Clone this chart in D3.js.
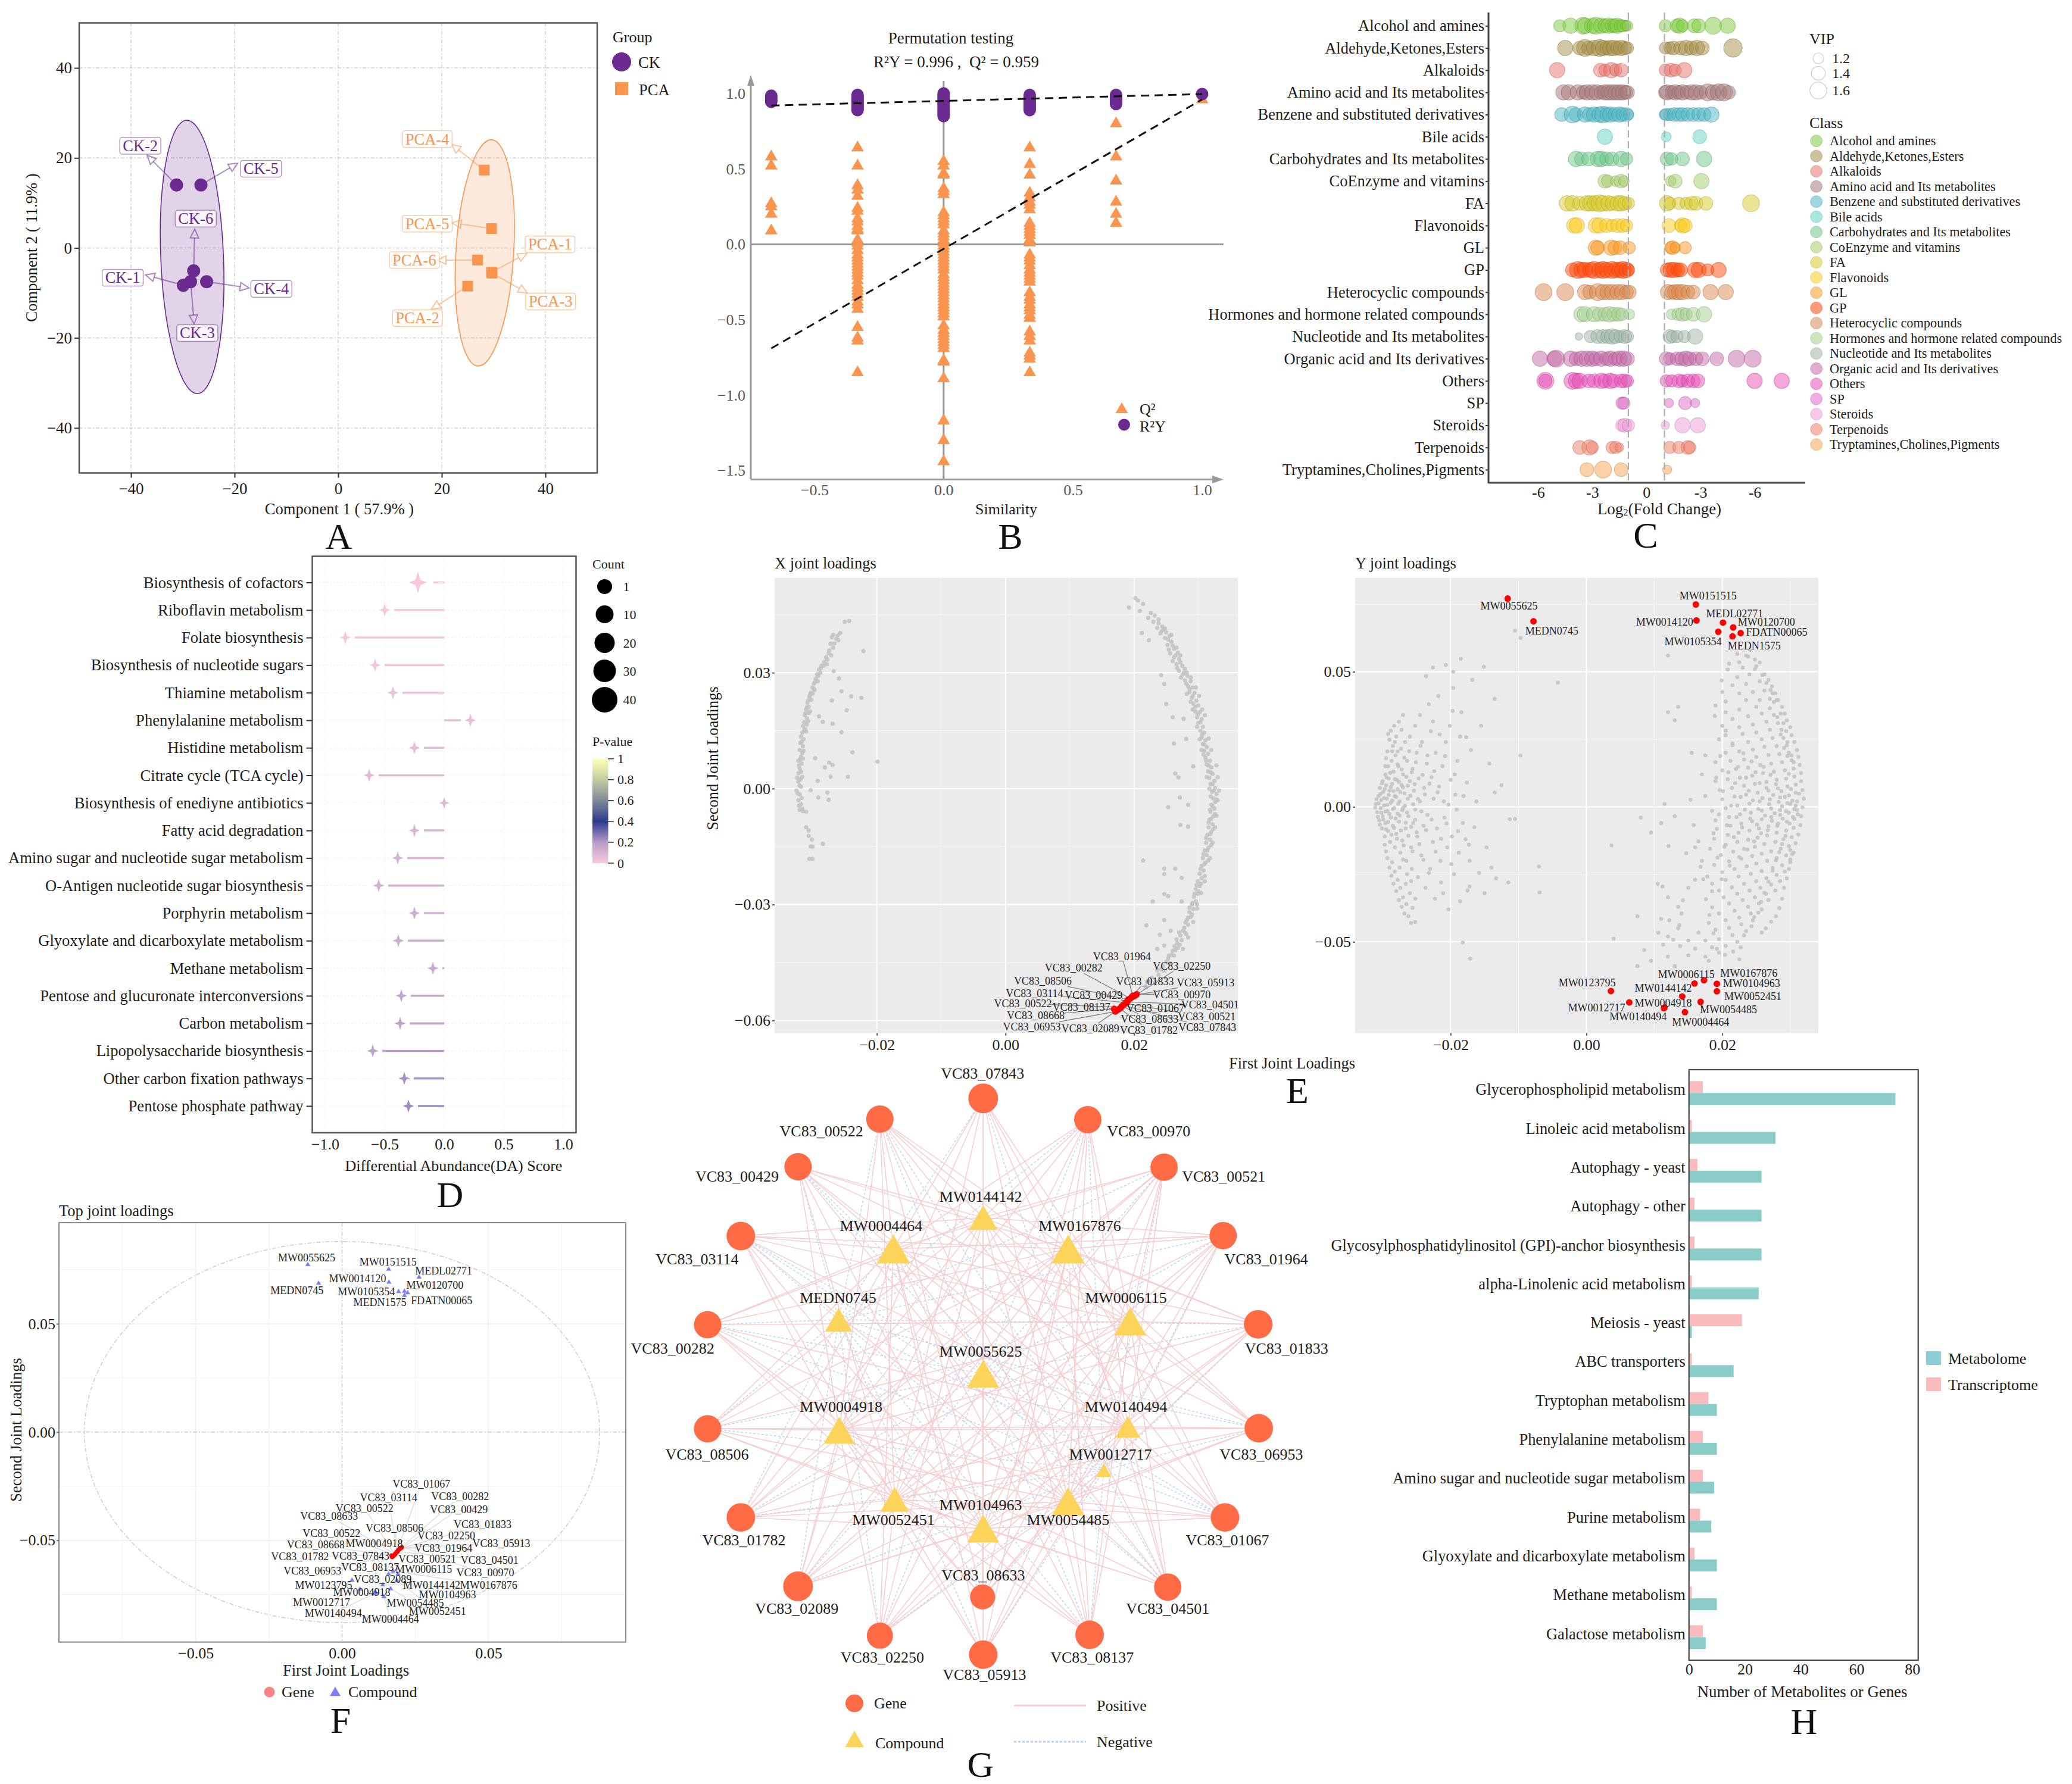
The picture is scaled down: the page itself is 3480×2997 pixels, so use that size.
<!DOCTYPE html>
<html>
<head>
<meta charset="utf-8">
<script src="https://cdn.jsdelivr.net/npm/d3@7"></script>
<style>
  body { margin: 0; background: #fff; }
  svg { display: block; }
</style>
</head>
<body>
<div id="chart"></div>
<script>
// A: PCA scores
const pcaNames = ['CK-1', 'CK-2', 'CK-3', 'CK-4', 'CK-5', 'CK-6', 'PCA-1', 'PCA-2', 'PCA-3', 'PCA-4', 'PCA-5', 'PCA-6']
const pcaX = [-29.9, -31.2, -28.5, -25.4, -26.5, -27.9, 29.6, 25.0, 29.7, 28.2, 29.6, 26.9]
const pcaY = [-8.3, 14.0, -7.5, -7.5, 14.0, -5.1, -5.4, -8.5, -5.6, 17.3, 4.3, -2.7]
const pcaLabelX = [-41.6, -38.2, -27.2, -12.9, -14.9, -27.5, 40.9, 15.3, 41.0, 17.2, 17.2, 14.7]
const pcaLabelY = [-6.6, 22.7, -18.9, -9.1, 17.6, 6.5, 0.8, -15.6, -11.9, 24.2, 5.4, -2.7]
const pcaTipX = [-37.2, -36.9, -27.8, -17.2, -19.4, -27.7, 36.4, 18.0, 36.5, 21.9, 22.0, 19.1]
const pcaTipY = [-6.0, 20.6, -16.9, -8.9, 18.8, 4.2, -1.2, -13.6, -10.0, 23.0, 5.6, -2.7]

// B: permutation test
const permSimilarity = [-0.667, -0.333, 0, 0.333, 0.667, 1]
const permR2 = [
  [0.945, 0.955, 0.965, 0.975, 0.985],
  [0.89, 0.90, 0.91, 0.92, 0.93, 0.94, 0.95, 0.96, 0.97, 0.98, 0.99],
  [0.85, 0.86, 0.87, 0.88, 0.89, 0.90, 0.91, 0.92, 0.93, 0.94, 0.95, 0.96, 0.97, 0.98, 0.99, 1.0],
  [0.89, 0.90, 0.91, 0.92, 0.93, 0.94, 0.95, 0.96, 0.97, 0.98, 0.99],
  [0.93, 0.94, 0.95, 0.96, 0.97, 0.98, 0.99],
  [0.996]
]
const permQ2 = [
  [0.58, 0.52, 0.27, 0.25, 0.20, 0.09],
  [0.64, 0.52, 0.39, 0.36, 0.32, 0.24, 0.22, 0.17, 0.15, 0.12, 0.10, 0.09, 0.03, 0.01, -0.01, -0.04, -0.07, -0.09, -0.11, -0.13, -0.15, -0.17, -0.19, -0.21, -0.24, -0.27, -0.29, -0.31, -0.33, -0.35, -0.38, -0.40, -0.43, -0.55, -0.62, -0.64, -0.85],
  [0.55, 0.52, 0.47, 0.46, 0.37, 0.35, 0.33, 0.21, 0.19, 0.17, 0.15, 0.13, 0.09, 0.07, 0.05, 0.03, 0.01, -0.01, -0.03, -0.05, -0.07, -0.09, -0.11, -0.13, -0.15, -0.17, -0.20, -0.22, -0.24, -0.26, -0.28, -0.30, -0.32, -0.34, -0.36, -0.38, -0.40, -0.42, -0.44, -0.46, -0.48, -0.54, -0.57, -0.59, -0.61, -0.63, -0.65, -0.67, -0.69, -0.77, -0.78, -0.89, -1.17, -1.30, -1.44],
  [0.64, 0.53, 0.46, 0.34, 0.31, 0.28, 0.26, 0.23, 0.14, 0.12, 0.10, 0.08, 0.06, 0.03, 0.01, -0.07, -0.09, -0.11, -0.14, -0.17, -0.19, -0.21, -0.23, -0.25, -0.32, -0.35, -0.37, -0.40, -0.42, -0.44, -0.47, -0.49, -0.58, -0.61, -0.64, -0.72, -0.74, -0.76, -0.85],
  [0.80, 0.58, 0.42, 0.28, 0.20, 0.14],
  [0.959]
]
const r2Fit = [[-0.667, 0.92], [1, 0.996]]
const q2Fit = [[-0.667, -0.69], [1, 0.96]]

// C: fold change by class, pairs of [log2FC, VIP]
const classNames = ['Alcohol and amines', 'Aldehyde,Ketones,Esters', 'Alkaloids', 'Amino acid and Its metabolites', 'Benzene and substituted derivatives', 'Bile acids', 'Carbohydrates and Its metabolites', 'CoEnzyme and vitamins', 'FA', 'Flavonoids', 'GL', 'GP', 'Heterocyclic compounds', 'Hormones and hormone related compounds', 'Nucleotide and Its metabolites', 'Organic acid and Its derivatives', 'Others', 'SP', 'Steroids', 'Terpenoids', 'Tryptamines,Cholines,Pigments']
const classColors = ['#7ecb3e', '#a58f48', '#e8736a', '#a87a7a', '#4db5c4', '#60d4c4', '#6ec88a', '#a4ce6c', '#d8c92a', '#fccb1e', '#f99a22', '#ff4a0a', '#d98a50', '#a3cf8e', '#a0b5a8', '#c46aa8', '#e650b8', '#e06cc8', '#ee9ad8', '#f07f68', '#f7a550']
const classValues = [
  [[-4.8,1.3],[-4.2,1.5],[-3.5,1.6],[-3.4,1.5],[-3.0,1.5],[-2.8,1.6],[-2.5,1.5],[-2.3,1.4],[-2.1,1.5],[-1.9,1.4],[-1.75,1.4],[-1.6,1.5],[-1.45,1.3],[-1.3,1.3],[-1.15,1.2],[-1.05,1.2],[1.05,1.3],[1.7,1.4],[1.85,1.5],[2.0,1.3],[2.65,1.4],[2.9,1.4],[3.7,1.6],[4.5,1.5]],
  [[-4.5,1.5],[-3.7,1.4],[-3.4,1.6],[-3.2,1.4],[-2.9,1.5],[-2.6,1.6],[-2.4,1.5],[-2.2,1.4],[-2.0,1.5],[-1.8,1.5],[-1.6,1.4],[-1.4,1.5],[-1.2,1.4],[-1.05,1.3],[1.05,1.3],[1.3,1.3],[1.5,1.4],[1.9,1.4],[2.2,1.5],[2.5,1.4],[2.8,1.5],[3.1,1.4],[4.8,1.7]],
  [[-4.95,1.5],[-2.55,1.4],[-2.3,1.3],[-1.95,1.5],[-1.7,1.3],[-1.4,1.4],[1.05,1.3],[1.35,1.4],[1.6,1.3],[2.1,1.5]],
  [[-4.6,1.5],[-4.3,1.5],[-3.8,1.5],[-3.5,1.4],[-3.3,1.5],[-3.0,1.5],[-2.75,1.5],[-2.5,1.4],[-2.3,1.5],[-2.1,1.5],[-1.9,1.5],[-1.7,1.5],[-1.5,1.5],[-1.3,1.5],[-1.15,1.4],[-1.05,1.4],[1.05,1.4],[1.15,1.5],[1.4,1.4],[1.6,1.5],[1.8,1.4],[2.0,1.5],[2.25,1.4],[2.5,1.5],[2.75,1.5],[3.0,1.4],[3.4,1.6],[3.7,1.5],[4.0,1.6],[4.3,1.6],[4.55,1.4]],
  [[-4.7,1.4],[-4.1,1.6],[-3.9,1.4],[-3.4,1.5],[-3.15,1.4],[-2.9,1.5],[-2.6,1.5],[-2.4,1.6],[-2.2,1.4],[-2.0,1.5],[-1.75,1.4],[-1.5,1.5],[-1.3,1.4],[-1.1,1.4],[-1.0,1.2],[1.0,1.2],[1.1,1.3],[1.3,1.3],[1.55,1.4],[1.8,1.4],[2.0,1.4],[2.3,1.4],[2.6,1.4],[2.9,1.4],[3.2,1.4],[3.6,1.5]],
  [[-2.3,1.5],[1.1,1.15],[2.95,1.4]],
  [[-3.9,1.5],[-3.6,1.4],[-3.2,1.4],[-2.7,1.5],[-2.5,1.5],[-2.2,1.4],[-1.9,1.4],[-1.4,1.5],[-1.1,1.3],[1.15,1.4],[1.4,1.3],[2.0,1.4],[3.2,1.5]],
  [[-2.3,1.4],[-2.15,1.3],[-1.7,1.2],[-1.4,1.4],[-1.25,1.2],[1.35,1.2],[1.6,1.4],[3.05,1.5]],
  [[-4.4,1.5],[-4.1,1.5],[-3.7,1.4],[-3.3,1.5],[-3.1,1.5],[-2.85,1.5],[-2.6,1.6],[-2.4,1.5],[-2.1,1.5],[-1.9,1.4],[-1.6,1.5],[-1.4,1.5],[-1.2,1.4],[-1.0,1.3],[1.15,1.5],[1.3,1.3],[1.8,1.3],[2.2,1.3],[2.5,1.4],[2.75,1.4],[3.3,1.4],[5.8,1.6]],
  [[-4.0,1.5],[-3.85,1.5],[-2.8,1.5],[-2.6,1.5],[-2.2,1.4],[-1.9,1.3],[-1.6,1.4],[-1.3,1.4],[-1.1,1.3],[1.25,1.4],[1.9,1.3],[2.0,1.5],[2.15,1.4]],
  [[-2.8,1.5],[-2.7,1.4],[-1.95,1.5],[-1.75,1.4],[-1.45,1.4],[-0.95,1.3],[1.35,1.3],[1.45,1.4],[1.6,1.2],[2.15,1.3]],
  [[-4.1,1.4],[-3.8,1.6],[-3.6,1.5],[-3.4,1.5],[-3.1,1.5],[-2.9,1.6],[-2.6,1.5],[-2.4,1.6],[-2.2,1.5],[-1.9,1.6],[-1.7,1.5],[-1.5,1.5],[-1.3,1.6],[-1.1,1.5],[-1.0,1.3],[1.15,1.4],[1.35,1.5],[1.55,1.5],[1.75,1.4],[1.9,1.4],[2.7,1.5],[2.9,1.5],[3.4,1.3],[4.0,1.5]],
  [[-5.7,1.6],[-4.5,1.6],[-3.4,1.5],[-3.15,1.4],[-2.7,1.6],[-2.4,1.5],[-2.15,1.5],[-1.9,1.5],[-1.6,1.5],[-1.35,1.5],[-1.1,1.4],[-0.95,1.4],[1.2,1.5],[1.4,1.4],[1.6,1.5],[1.8,1.5],[2.0,1.5],[2.3,1.4],[2.6,1.4],[3.55,1.5],[4.4,1.5]],
  [[-3.6,1.5],[-3.4,1.5],[-2.9,1.5],[-2.6,1.4],[-2.3,1.4],[-2.05,1.5],[-1.8,1.4],[-1.55,1.4],[-1.35,1.3],[-0.95,1.2],[1.4,1.2],[1.75,1.3],[2.0,1.4],[2.2,1.3],[2.6,1.4],[3.2,1.5]],
  [[-3.75,1.0],[-3.1,1.3],[-2.7,1.4],[-2.4,1.4],[-2.15,1.4],[-1.9,1.5],[-1.7,1.4],[-1.45,1.3],[-1.2,1.4],[-1.05,1.3],[1.3,1.4],[1.45,1.3],[1.7,1.3],[2.1,1.3],[2.7,1.5]],
  [[-5.9,1.5],[-5.1,1.5],[-5.0,1.6],[-4.2,1.5],[-3.9,1.4],[-3.6,1.5],[-3.3,1.5],[-3.0,1.5],[-2.8,1.4],[-2.5,1.5],[-2.2,1.4],[-2.0,1.5],[-1.7,1.4],[-1.5,1.5],[-1.25,1.5],[-1.05,1.4],[1.1,1.4],[1.3,1.3],[1.7,1.4],[1.95,1.4],[2.2,1.5],[2.4,1.4],[2.75,1.4],[3.1,1.4],[3.9,1.4],[5.0,1.6],[5.9,1.6]],
  [[-5.6,1.6],[-5.6,1.35],[-4.1,1.6],[-3.9,1.5],[-3.7,1.5],[-3.2,1.4],[-2.9,1.4],[-2.5,1.5],[-2.3,1.4],[-2.0,1.5],[-1.8,1.4],[-1.4,1.4],[-1.2,1.4],[-1.05,1.3],[1.1,1.3],[1.4,1.3],[1.8,1.4],[2.0,1.3],[2.3,1.4],[2.6,1.4],[2.85,1.4],[6.0,1.5],[7.5,1.5]],
  [[-1.35,1.3],[-1.25,1.3],[1.25,1.1],[2.15,1.35],[2.7,1.1]],
  [[-1.35,1.3],[-1.2,1.4],[-1.0,1.3],[1.05,1.05],[2.0,1.5],[2.85,1.5]],
  [[-3.7,1.4],[-3.15,1.5],[-3.0,1.3],[-1.9,1.3],[-1.7,1.3],[-1.5,1.1],[1.3,1.3],[1.8,1.3],[2.3,1.4],[2.4,1.3]],
  [[-3.3,1.4],[-2.4,1.6],[-1.4,1.4],[1.15,1.1]]
]
const vipLegend = [1.2, 1.4, 1.6]
const fcTickLabels = ['-6', '-3', '0', '-3', '-6']

// D: differential abundance
const daPathways = ['Biosynthesis of cofactors', 'Riboflavin metabolism', 'Folate biosynthesis', 'Biosynthesis of nucleotide sugars', 'Thiamine metabolism', 'Phenylalanine metabolism', 'Histidine metabolism', 'Citrate cycle (TCA cycle)', 'Biosynthesis of enediyne antibiotics', 'Fatty acid degradation', 'Amino sugar and nucleotide sugar metabolism', 'O-Antigen nucleotide sugar biosynthesis', 'Porphyrin metabolism', 'Glyoxylate and dicarboxylate metabolism', 'Methane metabolism', 'Pentose and glucuronate interconversions', 'Carbon metabolism', 'Lipopolysaccharide biosynthesis', 'Other carbon fixation pathways', 'Pentose phosphate pathway']
const daScore = [-0.22, -0.5, -0.83, -0.58, -0.43, 0.22, -0.25, -0.63, 0, -0.25, -0.39, -0.55, -0.25, -0.385, -0.095, -0.36, -0.37, -0.6, -0.335, -0.3]
const daPvalue = [0.005, 0.01, 0.01, 0.02, 0.03, 0.05, 0.06, 0.07, 0.08, 0.09, 0.10, 0.11, 0.12, 0.13, 0.14, 0.15, 0.17, 0.18, 0.22, 0.23]
const daCount = [40, 10, 10, 10, 10, 10, 10, 10, 5, 10, 10, 10, 10, 10, 10, 10, 10, 10, 10, 10]
const countLegend = [1, 10, 20, 30, 40]
const pvalueTicks = [0, 0.2, 0.4, 0.6, 0.8, 1]
const pvalueColors = ['#f9c9dc', '#b49cc8', '#2b3a8c', '#7f8a98', '#c4cca0', '#ffffb3']

// E: joint loadings, x and y in units of 1e-4
const geneNames = ['VC83_00970', 'VC83_05913', 'VC83_02250', 'VC83_01964', 'VC83_01833', 'VC83_00282', 'VC83_08506', 'VC83_00429', 'VC83_04501', 'VC83_03114', 'VC83_00521', 'VC83_01067', 'VC83_07843', 'VC83_08633', 'VC83_00522', 'VC83_01782', 'VC83_08137', 'VC83_02089', 'VC83_06953', 'VC83_08668']
const geneLoadX = [204, 203, 200, 198, 196, 194, 191, 190, 189, 187, 186, 184, 183, 181, 180, 178, 176, 174, 171, 169]
const geneLoadY = [-532, -534, -537, -536, -540, -543, -546, -550, -552, -554, -556, -559, -561, -563, -566, -569, -571, -573, -577, -570]
const geneLabelX = [274, 311, 274, 181, 217, 106, 58, 137, 318, 45, 313, 233, 314, 224, 27, 223, 118, 132, 41, 47]
const geneLabelY = [-533, -503, -459, -434, -499, -464, -498, -535, -560, -530, -591, -569, -618, -596, -556, -625, -566, -621, -616, -587]

const xLoadGrey = [
  [-250,432],[-243,434],[-268,398],[-263,388],[-257,403],[-272,375],[-268,365],[-275,350],[-279,340],[-271,345],[-282,328],[-286,318],[-278,322],[-290,308],[-293,296],[-288,300],[-295,285],[-298,272],[-292,278],[-300,262],[-303,248],[-297,255],[-305,238],[-302,230],[-308,222],[-306,212],[-310,205],[-304,200],[-312,190],[-309,182],[-313,172],[-307,175],[-315,162],[-312,155],[-316,145],[-310,148],[-318,135],[-314,128],[-319,118],[-315,110],[-320,100],[-316,92],[-318,82],[-322,72],[-317,65],[-320,52],[-322,40],[-316,30],[-322,18],[-318,5],[-325,-5],[-320,-15],[-322,-30],[-318,-40],[-320,-55],[-316,-52],[-315,-58],[-310,-60],[-310,-100],[-306,-108],[-306,-122],[-303,-150],[-300,-150],[-305,-182],[-300,-182],
  [-221,356],[-260,384],[-267,304],[-259,285],[-270,228],[-255,252],[-240,239],[-224,235],[-247,203],[-290,187],[-284,173],[-269,168],[-255,146],[-238,94],[-199,70],[-296,79],[-274,67],[-269,61],[-281,55],[-272,31],[-245,31],[-292,20],[-303,-4],[-277,-10],[-291,-23],[-275,-29],[-284,-143],[-301,-132],
  [-311,195],[-306,196],[-309,166],[-313,150],[-317,122],[-314,98],[-319,76],[-321,60],[-315,78],[-318,44],[-324,28],[-319,24],[-320,8],[-323,-12],[-317,-24],[-321,-44],[-304,242],[-300,246],[-298,258],[-296,276],[-291,292],[-287,312],[-283,318],[-277,334],[-274,358],[-266,376],[-270,392],[-261,396],[-309,210],[-307,228],
  [202,493],[192,469],[209,460],[214,478],[206,487],[226,455],[222,442],[232,448],[230,432],[238,438],[244,420],[236,416],[250,405],[243,408],[255,395],[248,390],[258,380],[252,372],[262,362],[256,350],[268,352],[262,340],[270,335],[266,322],[275,318],[270,305],[279,310],[276,296],[283,292],[279,280],[288,278],[284,265],[291,262],[286,250],[294,248],[290,235],[297,228],[292,220],[300,215],[295,200],[302,198],[298,185],[305,180],[300,170],[307,160],[303,150],[309,145],[305,132],[311,125],[307,115],[313,108],[309,98],[315,90],[311,80],[318,72],[313,62],[320,55],[315,45],[322,38],[317,28],[325,20],[319,12],[326,2],[321,-8],[328,-14],[323,-25],[326,-35],[320,-42],[325,-52],[319,-60],[323,-72],[317,-80],[322,-92],[316,-100],[320,-112],[314,-120],[318,-132],[312,-140],[316,-152],[310,-160],[313,-172],[307,-180],[311,-192],[305,-200],[308,-212],[302,-220],[305,-232],[299,-240],[302,-252],[296,-260],[299,-272],[293,-280],[296,-292],[290,-300],[292,-312],[286,-320],[288,-332],[282,-340],[284,-352],[278,-360],[279,-372],[272,-380],[274,-392],[267,-400],[268,-412],[260,-420],[262,-432],[253,-440],[256,-452],[245,-460],[247,-472],[238,-482],[228,-490],[232,-505],[218,-512],
  [212,403],[223,384],[242,294],[247,271],[250,219],[260,185],[277,181],[281,129],[262,117],[264,39],[269,29],[292,58],[253,-48],[271,-23],[284,-42],[272,-94],[284,-98],[214,-186],[247,-207],[247,-221],[264,-207],[274,-231],[247,-273],[253,-278],[229,-292],[274,-292],[219,-354],[247,-340],[240,-378],[257,-368],[247,-406],[236,-415],
  [248,415],[258,398],[266,365],[272,345],[282,300],[288,288],[296,262],[301,240],[306,205],[310,190],[316,130],[320,100],[328,60],[330,30],[332,-5],[330,-30],[328,-70],[326,-100],[322,-140],[318,-180],[310,-240],[304,-270],[298,-310],[292,-345],[284,-385],[276,-415],
  [238,428],[246,412],[241,402],[253,386],[260,370],[254,360],[265,345],[260,330],[272,327],[267,312],[278,300],[273,288],[281,272],[286,258],[282,245],[291,240],[288,225],[295,212],[291,205],[299,192],[303,172],[298,160],[306,140],[302,128],[309,115],[305,100],[312,72],[308,88],[316,60],[319,42],[313,30],[322,12],[317,0],[324,-5],[319,-20],[328,-28],[322,-45],[318,-55],[326,-66],[320,-78],[316,-88],[323,-105],[318,-118],[312,-128],[320,-146],[314,-160],[308,-170],[315,-186],[309,-196],[303,-208],[310,-226],[304,-246],[297,-250],[300,-266],[294,-272],[298,-300],[291,-296],[286,-308],[290,-326],[284,-334],[280,-346],[276,-368],[281,-376],[270,-372],[266,-390],[271,-404],[263,-408],[258,-430],[264,-418],[250,-448],[254,-432],[242,-468],[236,-470],[225,-498],[220,-500]
]

const compoundNames = ['MW0055625', 'MEDN0745', 'MW0151515', 'MW0014120', 'MEDL02771', 'MW0120700', 'MW0105354', 'MEDN1575', 'FDATN00065', 'MW0123795', 'MW0012717', 'MW0004918', 'MW0140494', 'MW0144142', 'MW0006115', 'MW0167876', 'MW0104963', 'MW0052451', 'MW0054485', 'MW0004464']
const yLoadX = [-116, -78, 161, 162, 201, 216, 194, 215, 227, 36, 63, 114, 115, 141, 159, 173, 192, 192, 168, 145]
const yLoadY = [771, 687, 749, 690, 682, 664, 648, 631, 643, -682, -724, -745, -743, -702, -654, -642, -655, -683, -722, -760]
const yLabelX = [-114, -51, 179, 115, 218, 265, 157, 247, 280, 1, 15, 113, 76, 113, 147, 239, 243, 245, 209, 168]
const yLabelY = [743, 650, 781, 683, 714, 683, 612, 596, 646, -652, -743, -726, -776, -672, -621, -615, -654, -701, -751, -797]

const yLoadGrey = [
  [-310,10],[-308,-20],[-306,40],[-305,-50],[-304,70],[-303,-5],[-302,25],[-301,-80],[-300,95],[-300,-35],[-299,55],[-298,5],[-297,-110],[-296,120],[-296,-60],[-295,80],[-294,30],[-293,-15],[-292,150],[-292,-90],[-291,105],[-290,60],[-289,-130],[-288,-40],[-288,15],[-287,170],[-286,85],[-285,-70],[-284,130],[-283,-5],[-282,40],[-282,-150],[-281,190],[-280,-100],[-279,100],[-278,65],[-278,-25],[-277,150],[-276,-55],[-275,20],[-274,-170],[-273,215],[-272,80],[-271,-125],[-270,120],[-270,-5],[-268,50],[-267,240],[-266,-80],[-265,-200],[-264,170],[-263,30],[-262,-35],[-260,260],[-260,95],[-258,-150],[-257,-230],[-256,140],[-255,-60],[-254,60],[-252,300],[-252,-10],[-250,200],[-249,-110],[-248,-260],[-247,105],[-245,340],[-245,20],[-243,-180],[-242,240],[-240,-70],[-239,70],[-237,-300],[-235,160],[-234,-30],[-232,380],[-230,-230],[-229,280],[-228,110],[-226,-130],[-225,30],[-223,-340],[-222,200],[-220,-80],[-218,410],[-217,75],[-215,-200],[-214,-280],[-212,150],[-210,20],[-209,-40],[-207,240],[-205,-150],[-203,-380],[-201,300],[-200,100],[-198,-110],[-196,440],[-195,-250],[-193,45],[-191,-10],[-190,170],[-188,-170],[-186,260],[-184,350],[-182,-60],[-178,-120],[-176,90],[-175,-310],[-172,-200],[-170,210],[-168,470],[-165,-75],[-162,20],[-158,-245],[-155,300],[-150,-320],[-147,-150],[-143,160],[-140,-225],[-135,400],[-133,-265],[-125,80],[-115,-280],[-105,-45],
  [-185,548],[-196,500],[-226,516],[-207,525],[-151,518],[-236,484],[-42,460],[-97,625],[-105,652],[-97,190],[-135,53],[-113,-46],[-70,-221],[-69,-317],[37,-143],[40,-488],[-182,-502],[-171,-562],[-172,-295],[-256,-374],[-252,-426],
  [-311,-3],[-309,28],[-307,-37],[-306,13],[-304,-66],[-303,48],[-302,-22],[-301,87],[-299,-47],[-298,33],[-297,66],[-296,-18],[-295,-83],[-294,109],[-293,7],[-292,-56],[-291,44],[-290,-27],[-289,126],[-288,73],[-287,-103],[-286,23],[-285,-8],[-284,58],[-283,-78],[-282,103],[-281,-43],[-280,36],[-279,-118],[-278,157],[-277,11],[-276,92],[-275,-32],[-274,55],[-273,-88],[-272,138],[-271,-13],[-270,72],[-269,-143],[-268,182],[-267,4],[-266,-59],[-265,111],[-264,-21],[-263,78],[-262,-107],[-261,206],[-259,41],[-258,-74],[-257,128],[-256,-165],[-255,9],[-253,84],[-252,-48],[-251,165],[-250,-94],[-248,29],[-246,-138],[-244,226],[-243,-17],[-241,118],[-240,-196],[-238,46],[-236,-86],[-234,190],[-232,-245],[-231,86],[-228,-47],[-226,316],[-224,132],[-222,-166],[-219,54],[-216,268],[-214,-118],[-211,-320],[-208,188],[-206,-62],[-203,8],[-199,-212],[-197,355],[-194,120],[-189,-90],[-186,-350],[-181,40],[-177,258],[-173,-140],
  [-292,270],[-290,248],[-288,282],[-285,225],[-283,300],[-280,260],[-276,315],[-272,285],[-270,340],[-293,205],[-295,180],[-296,150],[-286,205],[-282,240],[-278,205],[-297,-140],[-295,-165],[-293,-190],[-290,-225],[-287,-255],[-284,-285],[-280,-312],[-276,-345],[-272,-370],[-268,-395],[-286,-205],[-282,-240],[-278,-270],[-274,-300],[-270,-335],[-265,-360],[-262,-405],[-258,-430],[-266,-285],[-260,-320],[-264,-250],[-275,-225],[-270,-195],[-258,-275],[-252,-340],
  [241,581],[235,560],[248,545],[255,534],[225,535],[210,530],[230,515],[248,510],[262,490],[240,490],[222,480],[255,465],[273,446],[235,455],[215,450],[262,430],[278,420],[245,425],[225,420],[200,425],[190,375],[205,390],[270,400],[282,395],[255,395],[235,395],[288,370],[270,365],[250,370],[225,360],[205,350],[292,345],[276,340],[258,345],[238,335],[215,325],[295,320],[282,310],[265,315],[245,305],[225,295],[200,300],[300,295],[287,285],[270,285],[250,275],[230,270],[205,265],[302,265],[290,255],[274,255],[258,250],[238,240],[215,235],[195,250],[306,240],[295,228],[280,225],[262,222],[245,212],[225,205],[205,200],[310,210],[298,200],[284,195],[268,192],[250,185],[232,175],[212,170],[190,165],[312,185],[302,172],[288,165],[272,160],[256,155],[238,145],[220,140],[200,135],[175,190],[314,155],[305,142],[292,135],[276,130],[260,125],[244,115],[226,108],[208,102],[190,95],[170,120],[316,125],[306,112],[294,104],[280,100],[265,92],[248,85],[232,78],[214,70],[196,62],[175,40],[316,95],[308,82],[296,75],[282,68],[268,60],[252,52],[235,45],[218,38],[200,28],[318,62],[308,52],[298,42],[285,35],[270,28],[255,20],[240,12],[222,5],[205,-5],[185,-15],[320,30],[310,20],[300,10],[288,2],[272,-6],[258,-14],[242,-22],[226,-28],[210,-38],[190,-50],[318,-2],[310,-12],[298,-22],[285,-30],[272,-38],[258,-46],[244,-54],[228,-62],[212,-70],[192,-82],[316,-35],[306,-45],[295,-55],[282,-62],[268,-72],[254,-80],[240,-88],[224,-96],[208,-104],[188,-118],[315,-68],[305,-78],[294,-88],[280,-96],[266,-106],[252,-114],[238,-122],[222,-130],[205,-140],[182,-155],[160,-150],[312,-102],[302,-112],[290,-120],[278,-130],[262,-138],[248,-148],[232,-156],[216,-166],[198,-178],[170,-200],[308,-135],[298,-145],[286,-155],[272,-165],[258,-174],[244,-182],[228,-192],[210,-202],[188,-215],[305,-170],[294,-180],[280,-190],[266,-200],[250,-210],[236,-220],[218,-230],[200,-242],[178,-258],[300,-205],[288,-216],[274,-226],[258,-238],[242,-248],[224,-258],[205,-270],[185,-285],[160,-270],[292,-240],[280,-252],[265,-264],[250,-275],[232,-285],[214,-298],[195,-310],[150,-300],[112,-295],[285,-275],[272,-288],[256,-300],[240,-310],[222,-322],[202,-335],[120,-335],[278,-310],[264,-322],[248,-335],[230,-345],[210,-358],[185,-372],[135,-370],[268,-345],[254,-358],[238,-370],[218,-385],[195,-395],[140,-395],[75,-405],[258,-380],[242,-395],[225,-410],[205,-420],[180,-430],[110,-415],[245,-420],[228,-435],[210,-448],[190,-455],[165,-465],[135,-450],[235,-460],[215,-475],[195,-490],[175,-495],[150,-495],[120,-480],[222,-500],[205,-515],[185,-520],[160,-525],[138,-515],[85,-530],[195,-540],[175,-555],[150,-550],[120,-555],[95,-570],[225,-565],[180,-570],[130,-590],[75,-590],[115,10],[130,-35],[110,-60],[95,-95],[80,-40],[121,-145],[105,-285],[120,350],[135,370],[120,560],[155,200],[130,320],
  [308,4],[311,-28],[313,48],[306,-8],[303,22],[304,-38],[301,66],[299,-62],[296,14],[294,-16],[292,36],[289,-44],[287,58],[285,-12],[283,18],[281,-70],[279,84],[277,-24],[275,44],[273,-52],[271,118],[269,10],[267,-86],[265,70],[263,-32],[261,148],[259,32],[257,-98],[255,88],[253,-8],[251,-66],[249,128],[247,-128],[245,24],[243,168],[241,-44],[239,60],[237,-158],[235,108],[233,-10],[231,198],[229,-76],[227,36],[225,-186],[223,148],[221,-38],[219,88],[217,-112],[215,228],[213,4],[211,-218],[209,128],[207,-68],[205,282],[203,-148],[201,58],[199,-268],[197,188],[195,-28],[193,-188],[191,108],[189,336],[187,-98],[185,-312],
  [298,122],[296,188],[293,-108],[291,218],[288,-138],[286,268],[284,-168],[281,332],[279,-198],[276,388],[274,-236],[271,432],[268,-278],[265,458],[262,-318],[259,488],[257,-352],[253,-392],[250,520],[247,-408],[243,-442],[238,556],[232,-476],[227,-520],[222,566],[216,-536],[208,508],[204,-548],[199,468],[192,-526],[187,-468],[181,-400],[176,-342],[172,-268],[168,-222],[165,-128],[158,-68],[153,26],[147,-172],[142,-346],[137,-438],[128,-492],[122,-420],[113,-510],[106,-466],
  [296,240],[294,280],[290,310],[286,345],[280,395],[274,420],[268,470],[300,-195],[298,-230],[295,-265],[291,-300],[288,-340],[284,-375],[279,-405],[272,-425],[264,-450],[258,-465],[302,190],[305,165],[303,-175],[300,-160]
]

// F: top joint loadings, same units
const topLoadX = [-117, -80, 159, 160, 263, 213, 193, 213, 224, 34, 61, 116, 111, 139, 159, 174, 191, 187, 166, 143]
const topLoadY = [773, 687, 752, 692, 715, 650, 649, 631, 643, -684, -726, -743, -745, -705, -656, -642, -656, -685, -724, -760]
const topLabelNames = ['MW0055625', 'MEDN0745', 'MW0151515', 'MEDL02771', 'MW0014120', 'MW0120700', 'MW0105354', 'MEDN1575', 'FDATN00065', 'VC83_01067', 'VC83_00282', 'VC83_03114', 'VC83_00522', 'VC83_00429', 'VC83_08633', 'VC83_01833', 'VC83_08506', 'VC83_00522', 'VC83_02250', 'VC83_05913', 'VC83_08668', 'MW0004918', 'VC83_01964', 'VC83_01782', 'VC83_07843', 'VC83_00521', 'VC83_04501', 'VC83_08137', 'MW0006115', 'VC83_06953', 'VC83_00970', 'VC83_02089', 'MW0123795', 'MW0144142', 'MW0167876', 'MW0004918', 'MW0104963', 'MW0012717', 'MW0054485', 'MW0052451', 'MW0140494', 'MW0004464']
const topLabelX = [-121, -154, 157, 347, 53, 317, 83, 129, 340, 271, 403, 159, 77, 399, -44, 480, 179, -36, 356, 544, -90, 110, 346, -144, 63, 291, 504, 96, 279, -101, 489, 139, -63, 306, 501, 67, 360, -70, 250, 326, -30, 165]
const topLabelY = [806, 654, 785, 743, 708, 677, 649, 598, 608, -241, -297, -304, -353, -357, -388, -428, -442, -467, -479, -514, -521, -514, -537, -575, -573, -586, -593, -626, -633, -640, -650, -680, -706, -708, -708, -740, -752, -787, -790, -829, -837, -865]
const topCircleRadius = 880

// G: network, node places in layout units of 0 to 1568 across and down
const netGenes = ['VC83_07843', 'VC83_00970', 'VC83_00521', 'VC83_01964', 'VC83_01833', 'VC83_06953', 'VC83_01067', 'VC83_04501', 'VC83_08137', 'VC83_05913', 'VC83_02250', 'VC83_02089', 'VC83_01782', 'VC83_08506', 'VC83_00282', 'VC83_03114', 'VC83_00429', 'VC83_00522', 'VC83_08633']
const netGeneX = [553, 723, 847, 943, 1000, 1001, 946, 853, 726, 553, 385, 252, 159, 105, 105, 159, 252, 385, 552]
const netGeneY = [84, 130, 233, 381, 573, 798, 991, 1142, 1245, 1288, 1247, 1140, 991, 799, 574, 382, 232, 129, 1163]
const netGeneR = [25, 23, 23, 23, 24, 24, 24, 23, 24, 24, 22, 25, 24, 23, 23, 24, 23, 23, 21]
const netGeneLabelX = [552, 822, 944, 1013, 1046, 1005, 950, 853, 730, 555, 389, 250, 164, 104, 48, 88, 153, 290, 553]
const netGeneLabelY = [30, 155, 253, 432, 625, 855, 1041, 1188, 1294, 1332, 1294, 1188, 1041, 855, 625, 432, 253, 155, 1116]
const netCompounds = ['MW0144142', 'MW0004464', 'MW0167876', 'MEDN0745', 'MW0006115', 'MW0055625', 'MW0004918', 'MW0140494', 'MW0012717', 'MW0052451', 'MW0054485', 'MW0104963']
const netCompoundX = [553, 407, 691, 318, 792, 553, 319, 788, 749, 409, 691, 553]
const netCompoundY = [342, 410, 410, 563, 567, 680, 802, 795, 889, 952, 956, 1015]
const netCompoundW = [48, 56, 56, 46, 54, 54, 52, 42, 26, 48, 54, 54]
const netCompoundLabelX = [549, 387, 710, 317, 785, 549, 322, 785, 760, 407, 691, 549]
const netCompoundLabelY = [297, 360, 360, 516, 516, 632, 752, 752, 855, 997, 997, 964]
const netNegative = ['MW0055625', 'MW0012717', 'MEDN0745']

// H: pathway counts
const pathwayNames = ['Glycerophospholipid metabolism', 'Linoleic acid metabolism', 'Autophagy - yeast', 'Autophagy - other', 'Glycosylphosphatidylinositol (GPI)-anchor biosynthesis', 'alpha-Linolenic acid metabolism', 'Meiosis - yeast', 'ABC transporters', 'Tryptophan metabolism', 'Phenylalanine metabolism', 'Amino sugar and nucleotide sugar metabolism', 'Purine metabolism', 'Glyoxylate and dicarboxylate metabolism', 'Methane metabolism', 'Galactose metabolism']
const metabolomeCount = [74, 31, 26, 26, 26, 25, 1, 16, 10, 10, 9, 8, 10, 10, 6]
const transcriptomeCount = [5, 1, 3, 2, 2, 1, 19, 1, 7, 5, 5, 4, 2, 1, 5]

const SERIF = '"Liberation Serif", "Times New Roman", serif'
const INK = '#1c1c1c'
const PURPLE = '#6b2a90'
const ORANGE = '#f9954f'

const svg = d3.select('#chart').append('svg')
  .attr('width', 3480).attr('height', 2997)
  .attr('font-family', SERIF)
svg.append('rect').attr('width', 3480).attr('height', 2997).attr('fill', '#fff')

const text = (parent, x, y, s, size = 26, anchor = 'start', fill = INK) =>
  parent.append('text')
    .attr('x', x).attr('y', y)
    .attr('dominant-baseline', 'central')
    .attr('text-anchor', anchor)
    .attr('font-size', size)
    .attr('fill', fill)
    .text(s)

const vtext = (parent, x, y, s, size = 26) =>
  text(parent, 0, 0, s, size, 'middle').attr('transform', `translate(${x},${y}) rotate(-90)`)

const axisStyle = (g, size, fill = INK, line = '#333') => {
  g.attr('font-family', SERIF).attr('font-size', size)
  g.selectAll('text').attr('fill', fill)
  g.selectAll('line').attr('stroke', line).attr('stroke-width', 2)
  g.select('.domain').remove()
}

const triangle = w => d3.symbol(d3.symbolTriangle, w * w * Math.sqrt(3) / 4)()

// A
const drawScores = () => {
  const g = svg.append('g')
  const x = d3.scaleLinear().domain([-50, 50]).range([133, 1003])
  const y = d3.scaleLinear().domain([-50, 50]).range([794.5, 38.5])
  const ticks = [-40, -20, 0, 20, 40]

  g.append('g').selectAll('line').data(ticks).join('line')
    .attr('x1', d => x(d)).attr('x2', d => x(d))
    .attr('y1', y(50)).attr('y2', y(-50))
    .attr('stroke', '#cfcfcf').attr('stroke-width', 1.5).attr('stroke-dasharray', '6 3 2 3')
  g.append('g').selectAll('line').data(ticks).join('line')
    .attr('x1', x(-50)).attr('x2', x(50))
    .attr('y1', d => y(d)).attr('y2', d => y(d))
    .attr('stroke', '#cfcfcf').attr('stroke-width', 1.5).attr('stroke-dasharray', '6 3 2 3')

  const ellipses = [
    { cx: -28.2, cy: -2, rx: 6.05, ry: 30.4, rot: -2.3, color: PURPLE },
    { cx: 28.3, cy: -1.1, rx: 5.57, ry: 25.2, rot: 3.5, color: ORANGE },
  ]
  g.selectAll('ellipse').data(ellipses).join('ellipse')
    .attr('cx', 0).attr('cy', 0)
    .attr('rx', d => x(d.rx) - x(0))
    .attr('ry', d => y(0) - y(d.ry))
    .attr('transform', d => `translate(${x(d.cx)},${y(d.cy)}) rotate(${d.rot})`)
    .attr('fill', d => d.color).attr('fill-opacity', 0.2)
    .attr('stroke', d => d.color).attr('stroke-width', 1.6)

  pcaNames.forEach((name, i) => {
    const color = i < 6 ? PURPLE : ORANGE
    const px = x(pcaX[i]), py = y(pcaY[i]), tx = x(pcaTipX[i]), ty = y(pcaTipY[i])
    const a = Math.atan2(ty - py, tx - px)
    const head = 15
    const wing = 7
    const bx = tx - head * Math.cos(a), by = ty - head * Math.sin(a)
    g.append('line')
      .attr('x1', px).attr('y1', py).attr('x2', bx).attr('y2', by)
      .attr('stroke', color).attr('stroke-opacity', 0.55).attr('stroke-width', 2)
    g.append('path')
      .attr('d', `M${tx},${ty}L${bx - wing * Math.sin(a)},${by + wing * Math.cos(a)}L${bx + wing * Math.sin(a)},${by - wing * Math.cos(a)}Z`)
      .attr('fill', 'none').attr('stroke', color).attr('stroke-opacity', 0.55).attr('stroke-width', 2)
    const lx = x(pcaLabelX[i]), ly = y(pcaLabelY[i])
    const box = g.append('rect').attr('fill', '#fff').attr('fill-opacity', 0.75)
      .attr('stroke', color).attr('stroke-opacity', 0.5).attr('stroke-width', 1.5).attr('rx', 4)
    const label = text(g, lx, ly, name, 26.5, 'middle', color)
    const w = label.node().getComputedTextLength() + 10
    box.attr('x', lx - w / 2).attr('y', ly - 14).attr('width', w).attr('height', 28)
  })

  pcaNames.forEach((name, i) => {
    if (i < 6) {
      g.append('ellipse').attr('cx', x(pcaX[i])).attr('cy', y(pcaY[i]))
        .attr('rx', 11).attr('ry', 11).attr('fill', PURPLE)
    } else {
      g.append('rect').attr('x', x(pcaX[i]) - 9).attr('y', y(pcaY[i]) - 9)
        .attr('width', 18).attr('height', 18).attr('fill', ORANGE)
    }
  })

  g.append('rect').attr('x', 133).attr('y', 38.5).attr('width', 870).attr('height', 756)
    .attr('fill', 'none').attr('stroke', '#555').attr('stroke-width', 2.5)

  g.append('g').attr('transform', 'translate(0,794.5)')
    .call(d3.axisBottom(x).tickValues(ticks).tickFormat(d3.format('d')).tickSize(8).tickPadding(8))
    .call(a => axisStyle(a, 27))
  g.append('g').attr('transform', 'translate(133,0)')
    .call(d3.axisLeft(y).tickValues(ticks).tickFormat(d3.format('d')).tickSize(8).tickPadding(4))
    .call(a => axisStyle(a, 27))

  text(g, 570, 855, 'Component 1 ( 57.9% )', 26.6, 'middle')
  vtext(g, 53, 416, 'Component 2 ( 11.9% )', 26.6)
  text(g, 1029, 62, 'Group', 26)
  g.append('circle').attr('cx', 1044).attr('cy', 104).attr('r', 16).attr('fill', PURPLE)
  text(g, 1072, 105, 'CK', 26.5)
  g.append('rect').attr('x', 1033).attr('y', 138).attr('width', 22).attr('height', 22).attr('fill', ORANGE)
  text(g, 1073, 151, 'PCA', 26.5)
  text(g, 569, 901, 'A', 62, 'middle', '#111')
}

// B
const drawPermutation = () => {
  const g = svg.append('g')
  const x = d3.scaleLinear().domain([-0.746, 1]).range([1261, 2019])
  const y = d3.scaleLinear().domain([-1.5, 1]).range([790.6, 157])
  const GREY = '#999'

  g.append('line').attr('x1', 1261).attr('x2', 2055).attr('y1', y(0)).attr('y2', y(0))
    .attr('stroke', GREY).attr('stroke-width', 3)
  g.append('line').attr('x1', x(0)).attr('x2', x(0)).attr('y1', 136).attr('y2', 805.5)
    .attr('stroke', GREY).attr('stroke-width', 3)

  permQ2.forEach((vals, i) => {
    g.append('g').selectAll('path').data(vals).join('path')
      .attr('d', triangle(21))
      .attr('transform', d => `translate(${x(permSimilarity[i])},${y(d)})`)
      .attr('fill', ORANGE)
  })
  permR2.forEach((vals, i) => {
    g.append('g').selectAll('circle').data(vals).join('circle')
      .attr('cx', x(permSimilarity[i])).attr('cy', d => y(d)).attr('r', 10.5)
      .attr('fill', PURPLE)
  })

  const fit = d3.line().x(d => x(d[0])).y(d => y(d[1]))
  ;[r2Fit, q2Fit].forEach(d => {
    g.append('path').attr('d', fit(d)).attr('fill', 'none')
      .attr('stroke', '#111').attr('stroke-width', 3).attr('stroke-dasharray', '14 9')
  })

  g.append('g').attr('transform', 'translate(0,805.5)')
    .call(d3.axisBottom(x).tickValues([-0.5, 0, 0.5, 1]).tickFormat(d3.format('.1f')).tickSize(0).tickPadding(8))
    .call(a => axisStyle(a, 26, '#555'))
  g.append('g').attr('transform', 'translate(1261,0)')
    .call(d3.axisLeft(y).tickValues([-1.5, -1, -0.5, 0, 0.5, 1]).tickFormat(d3.format('.1f')).tickSize(0).tickPadding(9))
    .call(a => axisStyle(a, 26, '#555'))

  // axis arrows
  g.append('line').attr('x1', 1261).attr('x2', 2045).attr('y1', 805.5).attr('y2', 805.5)
    .attr('stroke', GREY).attr('stroke-width', 3)
  g.append('line').attr('x1', 1261).attr('x2', 1261).attr('y1', 136).attr('y2', 805.5)
    .attr('stroke', GREY).attr('stroke-width', 3)
  g.append('path').attr('d', 'M2055,805.5L2036,799L2036,812Z').attr('fill', GREY)
  g.append('path').attr('d', 'M1261,126L1255,144L1267,144Z').attr('fill', GREY)

  text(g, 1597, 64, 'Permutation testing', 27, 'middle')
  text(g, 1606, 104, 'R²Y = 0.996 ,  Q² = 0.959', 27, 'middle').attr('xml:space', 'preserve')
  g.append('path').attr('d', triangle(21)).attr('transform', 'translate(1884,688)').attr('fill', ORANGE)
  g.append('circle').attr('cx', 1888).attr('cy', 713.5).attr('r', 10).attr('fill', PURPLE)
  text(g, 1914, 687, 'Q²', 26)
  text(g, 1914, 716, 'R²Y', 26)
  text(g, 1690, 855, 'Similarity', 26, 'middle')
  text(g, 1697, 901, 'B', 62, 'middle', '#111')
}

// C
const drawClasses = () => {
  const g = svg.append('g')
  const x = d3.scaleLinear().domain([-6, 6]).range([2583.4, 2947])
  const y = d3.scalePoint().domain(classNames).range([43.3, 789])
  const rVip = d3.scaleLinear().domain([1.2, 1.6]).range([9, 14.2])

  classNames.forEach((name, i) => {
    g.append('g').selectAll('circle').data(classValues[i]).join('circle')
      .attr('cx', d => x(d[0])).attr('cy', y(name)).attr('r', d => rVip(d[1]))
      .attr('fill', classColors[i]).attr('fill-opacity', 0.5)
      .attr('stroke', d3.color(classColors[i]).darker(0.6)).attr('stroke-opacity', 0.45).attr('stroke-width', 1.2)
  })

  ;[-1, 1].forEach(d => {
    g.append('line').attr('x1', x(d)).attr('x2', x(d)).attr('y1', 21).attr('y2', 811)
      .attr('stroke', '#aaa').attr('stroke-width', 2).attr('stroke-dasharray', '12 6')
  })

  g.append('g').attr('transform', 'translate(2500,0)')
    .call(d3.axisLeft(y).tickSize(5).tickPadding(2))
    .call(a => axisStyle(a, 26.5))
  g.append('g').attr('transform', 'translate(0,811)')
    .call(d3.axisBottom(x).tickValues([-6, -3, 0, 3, 6]).tickFormat((d, i) => fcTickLabels[i]).tickSize(0).tickPadding(7))
    .call(a => axisStyle(a, 26))
  g.append('line').attr('x1', 2500).attr('x2', 2500).attr('y1', 21).attr('y2', 812).attr('stroke', '#444').attr('stroke-width', 3)
  g.append('line').attr('x1', 2500).attr('x2', 3032).attr('y1', 811).attr('y2', 811).attr('stroke', '#444').attr('stroke-width', 3)

  const title = text(g, 2787, 855, 'Log', 27, 'middle')
  title.append('tspan').attr('font-size', 16).attr('dy', 5).text('2')
  title.append('tspan').attr('dy', -5).text('(Fold Change)')

  text(g, 3039, 65, 'VIP', 26)
  const vipY = [98, 123, 152]
  vipLegend.forEach((d, i) => {
    g.append('circle').attr('cx', 3054).attr('cy', vipY[i]).attr('r', rVip(d))
      .attr('fill', '#fff').attr('stroke', '#ccc').attr('stroke-width', 1.2)
    text(g, 3077, vipY[i], d.toFixed(1), 24)
  })
  text(g, 3039, 206, 'Class', 26)
  const rowY = d3.scalePoint().domain(classNames).range([236.7, 746.7])
  classNames.forEach((name, i) => {
    g.append('circle').attr('cx', 3050.6).attr('cy', rowY(name)).attr('r', 10)
      .attr('fill', classColors[i]).attr('fill-opacity', 0.55)
      .attr('stroke', d3.color(classColors[i]).darker(0.4)).attr('stroke-opacity', 0.4)
    text(g, 3073, rowY(name), name, 22.3)
  })
  text(g, 2764, 899, 'C', 62, 'middle', '#111')
}

// D
const drawAbundance = () => {
  const g = svg.append('g')
  const x = d3.scaleLinear().domain([-1, 1]).range([546, 946])
  const y = d3.scalePoint().domain(daPathways).range([978.5, 1858])
  const color = d3.scaleLinear().domain(pvalueTicks).range(pvalueColors)
  const starH = d3.scaleLinear().domain([1, 40]).range([9, 18])

  ;[-1, -0.5, 0, 0.5, 1].forEach(d => {
    g.append('line').attr('x1', x(d)).attr('x2', x(d)).attr('y1', 935).attr('y2', 1903)
      .attr('stroke', '#f0f0f0').attr('stroke-width', 1).attr('stroke-dasharray', '3 3')
  })
  g.append('g').selectAll('line').data(daPathways).join('line')
    .attr('x1', 524).attr('x2', 967).attr('y1', d => y(d)).attr('y2', d => y(d))
    .attr('stroke', '#f0f0f0').attr('stroke-width', 1).attr('stroke-dasharray', '3 3')

  const star = (h) => {
    const w = h * 0.85
    const n = h * 0.24
    return d3.line().curve(d3.curveLinearClosed)([
      [0, -h], [n, -n], [w, 0], [n, n], [0, h], [-n, n], [-w, 0], [-n, -n],
    ])
  }

  daPathways.forEach((name, i) => {
    const c = color(daPvalue[i])
    g.append('line').attr('x1', x(0)).attr('x2', x(daScore[i])).attr('y1', y(name)).attr('y2', y(name))
      .attr('stroke', c).attr('stroke-width', 3.5)
    g.append('circle').attr('cx', x(daScore[i])).attr('cy', y(name)).attr('r', starH(daCount[i]) * 1.45).attr('fill', '#fff')
    g.append('path').attr('d', star(starH(daCount[i])))
      .attr('transform', `translate(${x(daScore[i])},${y(name)})`)
      .attr('fill', c)
  })

  g.append('rect').attr('x', 524.5).attr('y', 934.5).attr('width', 443).attr('height', 968.5)
    .attr('fill', 'none').attr('stroke', '#555').attr('stroke-width', 2.5)
  g.append('g').attr('transform', 'translate(524.5,0)')
    .call(d3.axisLeft(y).tickSize(10).tickPadding(5))
    .call(a => axisStyle(a, 26.6))
  g.append('g').attr('transform', 'translate(0,1903)')
    .call(d3.axisBottom(x).tickValues([-1, -0.5, 0, 0.5, 1]).tickFormat(d3.format('.1f')).tickSize(0).tickPadding(10))
    .call(a => axisStyle(a, 26))
  text(g, 762, 1958.5, 'Differential Abundance(DA) Score', 26, 'middle')
  text(g, 756, 2007, 'D', 62, 'middle', '#111')

  text(g, 995, 947.5, 'Count', 22)
  const rCount = d3.scaleLinear().domain(countLegend).range([12.5, 15, 17, 19, 21.5])
  const countY = [985.4, 1032, 1080, 1127, 1175.5]
  countLegend.forEach((d, i) => {
    g.append('circle').attr('cx', 1015.5).attr('cy', countY[i]).attr('r', rCount(d)).attr('fill', '#000')
    text(g, 1046.5, countY[i], d, 22)
  })

  text(g, 995, 1245, 'P-value', 22)
  const defs = svg.append('defs')
  const grad = defs.append('linearGradient').attr('id', 'pgrad').attr('x1', 0).attr('x2', 0).attr('y1', 1).attr('y2', 0)
  pvalueTicks.forEach((d, i) => {
    grad.append('stop').attr('offset', d).attr('stop-color', pvalueColors[i])
  })
  const py = d3.scaleLinear().domain([0, 1]).range([1450, 1274.7])
  g.append('rect').attr('x', 995).attr('y', 1274.7).attr('width', 26.5).attr('height', 175.3).attr('fill', 'url(#pgrad)')
  g.append('g').attr('transform', 'translate(1031,0)')
    .call(d3.axisRight(py).tickValues(pvalueTicks).tickFormat(d => d).tickSize(0).tickPadding(6))
    .call(a => axisStyle(a, 22))
  g.append('g').selectAll('line').data(pvalueTicks).join('line')
    .attr('x1', 1021).attr('x2', 1031).attr('y1', d => py(d)).attr('y2', d => py(d))
    .attr('stroke', '#333').attr('stroke-width', 1.5)
}

// E
const trimmed = (px, py, lx, ly, hw, hh) => {
  const dx = px - lx, dy = py - ly
  const t = Math.min(dx ? hw / Math.abs(dx) : 1, dy ? hh / Math.abs(dy) : 1, 1)
  return [lx + dx * t, ly + dy * t]
}

const loadingPanel = (left, right, xDomain, yDomain, xTicks, yTicks) => {
  const g = svg.append('g')
  const x = d3.scaleLinear().domain(xDomain).range([left, right])
  const y = d3.scaleLinear().domain(yDomain).range([1735.7, 970.8])
  g.append('rect').attr('x', left).attr('y', 970.8).attr('width', right - left).attr('height', 764.9).attr('fill', '#ebebeb')
  const xMinor = xTicks.slice(1).map((d, i) => (d + xTicks[i]) / 2).concat([xTicks[xTicks.length - 1] + (xTicks[1] - xTicks[0]) / 2])
  const yMinor = yTicks.slice(1).map((d, i) => (d + yTicks[i]) / 2).concat([yTicks[yTicks.length - 1] + (yTicks[1] - yTicks[0]) / 2])
  xMinor.forEach(d => g.append('line').attr('x1', x(d)).attr('x2', x(d)).attr('y1', 970.8).attr('y2', 1735.7).attr('stroke', '#f6f6f6').attr('stroke-width', 1))
  yMinor.forEach(d => g.append('line').attr('x1', left).attr('x2', right).attr('y1', y(d)).attr('y2', y(d)).attr('stroke', '#f6f6f6').attr('stroke-width', 1))
  xTicks.forEach(d => g.append('line').attr('x1', x(d)).attr('x2', x(d)).attr('y1', 970.8).attr('y2', 1735.7).attr('stroke', '#fff').attr('stroke-width', 2))
  yTicks.forEach(d => g.append('line').attr('x1', left).attr('x2', right).attr('y1', y(d)).attr('y2', y(d)).attr('stroke', '#fff').attr('stroke-width', 2))
  g.append('g').attr('transform', 'translate(0,1735.7)')
    .call(d3.axisBottom(x).tickValues(xTicks).tickFormat(d3.format('.2f')).tickSize(4).tickPadding(6))
    .call(a => axisStyle(a, 26, INK, '#555'))
  g.append('g').attr('transform', `translate(${left},0)`)
    .call(d3.axisLeft(y).tickValues(yTicks).tickFormat(d3.format('.2f')).tickSize(4).tickPadding(3))
    .call(a => axisStyle(a, 26, INK, '#555'))
  return { g, x, y }
}

const drawXLoadings = () => {
  const { g, x, y } = loadingPanel(1301, 2079.4, [-0.0359, 0.03617], [-0.0633, 0.05455], [-0.02, 0, 0.02], [-0.06, -0.03, 0, 0.03])
  const e4 = v => v / 10000
  g.append('g').selectAll('circle').data(xLoadGrey).join('circle')
    .attr('cx', d => x(e4(d[0]))).attr('cy', d => y(e4(d[1]))).attr('r', 3.6)
    .attr('fill', '#c2c2c2').attr('fill-opacity', 0.85)
  geneNames.forEach((name, i) => {
    const px = x(e4(geneLoadX[i])), py = y(e4(geneLoadY[i]))
    const lx = x(e4(geneLabelX[i])), ly = y(e4(geneLabelY[i]))
    const [ex, ey] = trimmed(px, py, lx, ly, 46, 9)
    g.append('line').attr('x1', px).attr('y1', py).attr('x2', ex).attr('y2', ey)
      .attr('stroke', '#777').attr('stroke-width', 1.2)
  })
  g.append('g').selectAll('circle.gene').data(geneNames).join('circle')
    .attr('class', 'gene')
    .attr('cx', (d, i) => x(e4(geneLoadX[i]))).attr('cy', (d, i) => y(e4(geneLoadY[i]))).attr('r', 5.5)
    .attr('fill', '#f00')
  geneNames.forEach((name, i) => {
    text(g, x(e4(geneLabelX[i])), y(e4(geneLabelY[i])), name, 18, 'middle', '#222')
  })
  text(g, 1301, 946, 'X joint loadings', 26.5)
  vtext(g, 1197, 1274, 'Second Joint Loadings', 26.5)
  text(g, 2170, 1786, 'First Joint Loadings', 26.5, 'middle')
  text(g, 2179, 1832, 'E', 62, 'middle', '#111')
}

const drawYLoadings = () => {
  const { g, x, y } = loadingPanel(2276, 3054, [-0.03405, 0.03414], [-0.0838, 0.08475], [-0.02, 0, 0.02], [-0.05, 0, 0.05])
  const e4 = v => v / 10000
  g.append('g').selectAll('circle').data(yLoadGrey).join('circle')
    .attr('cx', d => x(e4(d[0]))).attr('cy', d => y(e4(d[1]))).attr('r', 3.3)
    .attr('fill', '#c2c2c2').attr('fill-opacity', 0.85)
  g.append('g').selectAll('circle.top').data(compoundNames).join('circle')
    .attr('class', 'top')
    .attr('cx', (d, i) => x(e4(yLoadX[i]))).attr('cy', (d, i) => y(e4(yLoadY[i]))).attr('r', 5.5)
    .attr('fill', '#f00')
  compoundNames.forEach((name, i) => {
    text(g, x(e4(yLabelX[i])), y(e4(yLabelY[i])), name, 18, 'middle', '#222')
  })
  text(g, 2276, 946, 'Y joint loadings', 26.5)
}

// F
const drawTopLoadings = () => {
  const g = svg.append('g')
  const x = d3.scaleLinear().domain([-0.0967, 0.0969]).range([99, 1051])
  const y = d3.scaleLinear().domain([-0.097, 0.0967]).range([2758.6, 2054])
  const e4 = v => v / 10000
  const minor = [-0.075, -0.05, -0.025, 0.025, 0.05, 0.075]
  minor.forEach(d => {
    g.append('line').attr('x1', x(d)).attr('x2', x(d)).attr('y1', 2054).attr('y2', 2758.6)
      .attr('stroke', '#f1f1f1').attr('stroke-width', d * 40 % 2 === 0 ? 2 : 1)
    g.append('line').attr('x1', 99).attr('x2', 1051).attr('y1', y(d)).attr('y2', y(d))
      .attr('stroke', '#f1f1f1').attr('stroke-width', d * 40 % 2 === 0 ? 2 : 1)
  })
  g.append('line').attr('x1', 99).attr('x2', 1051).attr('y1', y(0)).attr('y2', y(0))
    .attr('stroke', '#ccc').attr('stroke-width', 1.5).attr('stroke-dasharray', '7 3 2 3')
  g.append('line').attr('x1', x(0)).attr('x2', x(0)).attr('y1', 2054).attr('y2', 2758.6)
    .attr('stroke', '#ccc').attr('stroke-width', 1.5).attr('stroke-dasharray', '7 3 2 3')
  g.append('ellipse').attr('cx', x(0)).attr('cy', y(0))
    .attr('rx', x(e4(topCircleRadius)) - x(0)).attr('ry', y(0) - y(e4(topCircleRadius)))
    .attr('fill', 'none').attr('stroke', '#ccc').attr('stroke-width', 1.5).attr('stroke-dasharray', '7 3 2 3')

  const pointOf = name => {
    const gi = geneNames.indexOf(name)
    if (gi >= 0) return [geneLoadX[gi], geneLoadY[gi]]
    const ci = compoundNames.indexOf(name)
    return [topLoadX[ci], topLoadY[ci]]
  }
  topLabelNames.forEach((name, i) => {
    if (topLabelY[i] > 0) return
    const p = pointOf(name)
    const px = x(e4(p[0])), py = y(e4(p[1]))
    const lx = x(e4(topLabelX[i])), ly = y(e4(topLabelY[i]))
    const [ex, ey] = trimmed(px, py, lx, ly, 46, 9)
    g.append('line').attr('x1', px).attr('y1', py).attr('x2', ex).attr('y2', ey)
      .attr('stroke', '#d8d8d8').attr('stroke-width', 1.2)
  })
  g.append('g').selectAll('circle').data(geneNames).join('circle')
    .attr('cx', (d, i) => x(e4(geneLoadX[i]))).attr('cy', (d, i) => y(e4(geneLoadY[i]))).attr('r', 3.6)
    .attr('fill', '#f00')
  g.append('g').selectAll('path').data(compoundNames).join('path')
    .attr('d', triangle(8.5))
    .attr('transform', (d, i) => `translate(${x(e4(topLoadX[i]))},${y(e4(topLoadY[i]))})`)
    .attr('fill', '#7d7df5')
  topLabelNames.forEach((name, i) => {
    text(g, x(e4(topLabelX[i])), y(e4(topLabelY[i])), name, 18, 'middle', '#222')
  })
  g.append('rect').attr('x', 99).attr('y', 2054).attr('width', 952).attr('height', 704.6)
    .attr('fill', 'none').attr('stroke', '#888').attr('stroke-width', 2)
  g.append('g').attr('transform', 'translate(0,2758.6)')
    .call(d3.axisBottom(x).tickValues([-0.05, 0, 0.05]).tickFormat(d3.format('.2f')).tickSize(0).tickPadding(9))
    .call(a => axisStyle(a, 26))
  g.append('g').attr('transform', 'translate(99,0)')
    .call(d3.axisLeft(y).tickValues([-0.05, 0, 0.05]).tickFormat(d3.format('.2f')).tickSize(4).tickPadding(2))
    .call(a => axisStyle(a, 26, INK, '#777'))
  text(g, 99, 2034, 'Top joint loadings', 26.5)
  vtext(g, 27, 2402, 'Second Joint Loadings', 26.5)
  text(g, 581, 2806, 'First Joint Loadings', 26.5, 'middle')
  g.append('circle').attr('cx', 452.5).attr('cy', 2842.5).attr('r', 9).attr('fill', '#f88484')
  text(g, 473, 2842, 'Gene', 26)
  g.append('path').attr('d', triangle(18)).attr('transform', 'translate(563,2844)').attr('fill', '#7d7df5')
  text(g, 585, 2842, 'Compound', 26)
  text(g, 572, 2890, 'F', 62, 'middle', '#111')
}

// G
const drawNetwork = () => {
  const g = svg.append('g')
  const x = d3.scaleLinear().domain([0, 1568]).range([1080, 2700])
  const y = d3.scaleLinear().domain([0, 1568]).range([1780, 2997])
  const POS = '#f7c9cc'
  const NEG = '#bcd3ee'
  const YELLOW = '#fdd45a'

  const edges = []
  netCompounds.forEach((c, ci) => {
    netGenes.forEach((n, gi) => {
      edges.push({ ci, gi, neg: netNegative.includes(c) })
    })
  })
  edges.sort((a, b) => b.neg - a.neg)
  g.append('g').selectAll('line').data(edges).join('line')
    .attr('x1', d => x(netGeneX[d.gi])).attr('y1', d => y(netGeneY[d.gi]))
    .attr('x2', d => x(netCompoundX[d.ci])).attr('y2', d => y(netCompoundY[d.ci]))
    .attr('stroke', d => (d.neg ? NEG : POS))
    .attr('stroke-width', 1.4)
    .attr('stroke-dasharray', d => (d.neg ? '4 3' : null))

  g.append('g').selectAll('circle').data(netGenes).join('circle')
    .attr('cx', (d, i) => x(netGeneX[i])).attr('cy', (d, i) => y(netGeneY[i])).attr('r', (d, i) => netGeneR[i])
    .attr('fill', '#ff6b45')
  g.append('g').selectAll('path').data(netCompounds).join('path')
    .attr('d', (d, i) => triangle(netCompoundW[i]))
    .attr('transform', (d, i) => `translate(${x(netCompoundX[i])},${y(netCompoundY[i]) + netCompoundW[i] * 0.145})`)
    .attr('fill', YELLOW)

  netGenes.forEach((d, i) => text(g, x(netGeneLabelX[i]), y(netGeneLabelY[i]), d, 26, 'middle'))
  netCompounds.forEach((d, i) => text(g, x(netCompoundLabelX[i]), y(netCompoundLabelY[i]), d, 26, 'middle'))

  g.append('circle').attr('cx', 1435).attr('cy', 2861.5).attr('r', 15).attr('fill', '#ff6b45')
  text(g, 1468, 2861, 'Gene', 26)
  g.append('path').attr('d', triangle(32)).attr('transform', 'translate(1435,2926)').attr('fill', YELLOW)
  text(g, 1470, 2928, 'Compound', 26)
  g.append('line').attr('x1', 1703).attr('x2', 1824).attr('y1', 2865).attr('y2', 2865).attr('stroke', POS).attr('stroke-width', 3)
  text(g, 1842, 2865, 'Positive', 26)
  g.append('line').attr('x1', 1703).attr('x2', 1824).attr('y1', 2926).attr('y2', 2926).attr('stroke', NEG).attr('stroke-width', 3).attr('stroke-dasharray', '4 3')
  text(g, 1842, 2926, 'Negative', 26)
  text(g, 1647, 2964, 'G', 62, 'middle', '#111')
}

// H
const drawPathways = () => {
  const g = svg.append('g')
  const x = d3.scaleLinear().domain([0, 82]).range([2836.7, 3221])
  const y = d3.scaleBand().domain(pathwayNames).range([1803.6, 2783])
  const barH = 20
  const META = '#8accc8'
  const TRANS = '#f9bbbb'
  const mid = d => y(d) + y.bandwidth() / 2

  g.append('g').selectAll('rect').data(pathwayNames).join('rect')
    .attr('x', x(0)).attr('y', d => mid(d) - barH)
    .attr('width', (d, i) => x(transcriptomeCount[i]) - x(0)).attr('height', barH)
    .attr('fill', TRANS)
  g.append('g').selectAll('rect').data(pathwayNames).join('rect')
    .attr('x', x(0)).attr('y', d => mid(d))
    .attr('width', (d, i) => x(metabolomeCount[i]) - x(0)).attr('height', barH)
    .attr('fill', META)

  g.append('rect').attr('x', 2836.7).attr('y', 1797).attr('width', 385).attr('height', 992)
    .attr('fill', 'none').attr('stroke', '#444').attr('stroke-width', 2.2)
  g.append('g').attr('transform', 'translate(2836.7,0)')
    .call(d3.axisLeft(y).tickSize(0).tickPadding(6))
    .call(a => axisStyle(a, 26.4))
    .call(a => a.selectAll('text').attr('dy', '.12em'))
  g.append('g').attr('transform', 'translate(0,2789)')
    .call(d3.axisBottom(x).tickValues([0, 20, 40, 60, 80]).tickSize(0).tickPadding(6))
    .call(a => axisStyle(a, 26))
  text(g, 3027, 2842, 'Number of Metabolites or Genes', 26.8, 'middle')

  g.append('rect').attr('x', 3235).attr('y', 2270).attr('width', 25).attr('height', 23).attr('fill', '#8ccdd6')
  text(g, 3272, 2282, 'Metabolome', 26)
  g.append('rect').attr('x', 3235).attr('y', 2314).attr('width', 25).attr('height', 23).attr('fill', TRANS)
  text(g, 3272, 2326, 'Transcriptome', 26)
  text(g, 3030, 2892, 'H', 62, 'middle', '#111')
}

drawNetwork()
drawScores()
drawPermutation()
drawClasses()
drawAbundance()
drawXLoadings()
drawYLoadings()
drawTopLoadings()
drawPathways()
</script>
</body>
</html>
